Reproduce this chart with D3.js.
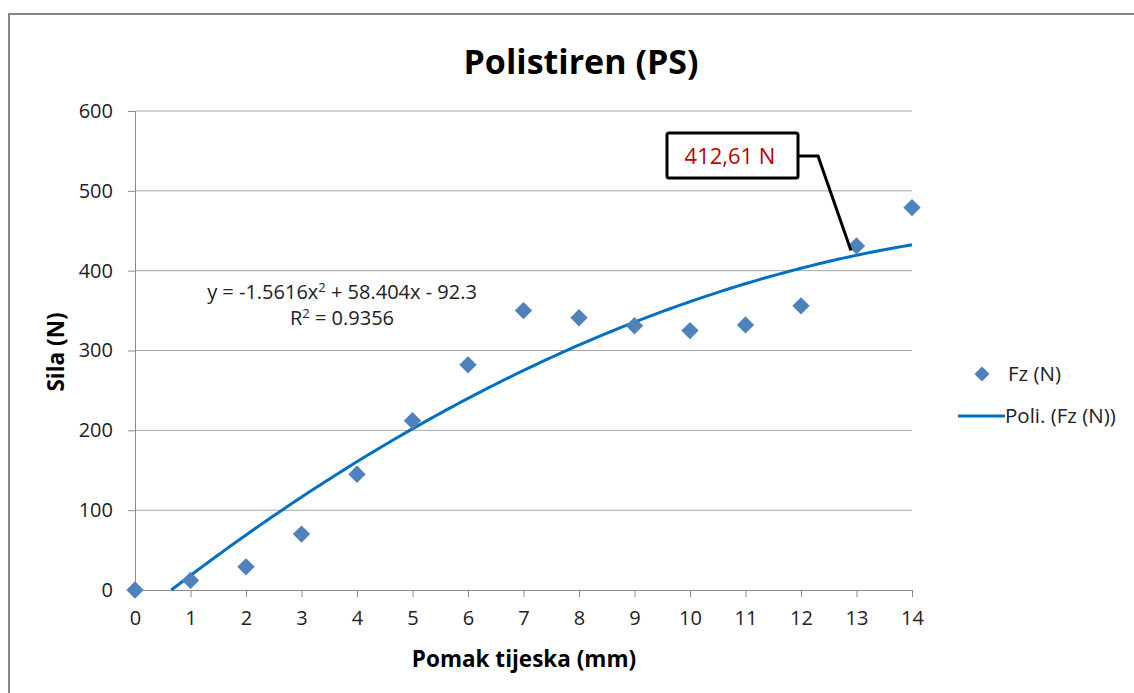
<!DOCTYPE html>
<html>
<head>
<meta charset="utf-8">
<script src="https://cdn.jsdelivr.net/npm/d3@7"></script>
<style>
  body { margin: 0; background: #fff; }
  text { font-family: "Open Sans", "Noto Sans", sans-serif; }
</style>
</head>
<body>
<svg width="1134" height="693"></svg>
<script>
// pomak tijeska (mm) i sila Fz (N)
const pomak = [0, 1, 2, 3, 4, 5, 6, 7, 8, 9, 10, 11, 12, 13, 14];
const sila = [0, 12, 29, 70, 145, 212, 282, 350, 341, 331, 325, 332, 356, 431, 479];
// polinom 2. reda (Excel trend, x = redni broj tocke)
const koef = [-1.5616, 58.404, -92.3];
const xTicks = [0, 1, 2, 3, 4, 5, 6, 7, 8, 9, 10, 11, 12, 13, 14];
const yTicks = [0, 100, 200, 300, 400, 500, 600];

const svg = d3.select('svg');

svg.append('rect')
  .attr('x', 9).attr('y', 14)
  .attr('width', 1140).attr('height', 700)
  .attr('fill', '#fff').attr('stroke', '#868686').attr('stroke-width', 2);

const x = d3.scaleLinear().domain([0, 14]).range([135, 912]);
const y = d3.scaleLinear().domain([0, 600]).range([590, 111]);

// gridlines
svg.append('g').selectAll('line')
  .data(yTicks.filter(d => d > 0))
  .enter().append('line')
  .attr('x1', x(0)).attr('x2', x(14))
  .attr('y1', d => y(d)).attr('y2', d => y(d))
  .attr('stroke', '#a6a6a6').attr('stroke-width', 1);

const yAxis = svg.append('g')
  .attr('transform', `translate(${x(0)},0)`)
  .call(d3.axisLeft(y).tickValues(yTicks).tickSize(7).tickPadding(15));
const xAxis = svg.append('g')
  .attr('transform', `translate(0,${y(0)})`)
  .call(d3.axisBottom(x).tickValues(xTicks).tickSize(7).tickPadding(14));

[yAxis, xAxis].forEach(a => {
  a.attr('font-size', 20).attr('font-family', null);
  a.select('.domain').attr('stroke', '#8c8c8c');
  a.selectAll('.tick line').attr('stroke', '#8c8c8c');
  a.selectAll('.tick text').attr('fill', '#222');
});

// trend
const trend = t => koef[0] * (t + 1) * (t + 1) + koef[1] * (t + 1) + koef[2];
const x0 = (-koef[1] + Math.sqrt(koef[1] * koef[1] - 4 * koef[0] * koef[2])) / (2 * koef[0]) - 1;
const tPts = d3.range(0, 141).map(i => x0 + (14 - x0) * i / 140);

svg.append('path')
  .datum(tPts)
  .attr('fill', 'none')
  .attr('stroke', '#0070c0')
  .attr('stroke-width', 3)
  .attr('d', d3.line().x(t => x(t)).y(t => y(trend(t))));

// tocke
const diamond = d3.symbol().type(d3.symbolSquare).size(150);
svg.append('g').selectAll('path')
  .data(pomak)
  .enter().append('path')
  .attr('d', diamond)
  .attr('transform', (d, i) => `translate(${x(d)},${y(sila[i])}) rotate(45)`)
  .attr('fill', '#4f81bd');

// naslov
svg.append('text')
  .attr('x', 581).attr('y', 74)
  .attr('text-anchor', 'middle')
  .attr('font-size', 34).attr('font-weight', 'bold')
  .text('Polistiren (PS)');

svg.append('text')
  .attr('x', 524).attr('y', 667)
  .attr('text-anchor', 'middle')
  .attr('font-size', 22.5).attr('font-weight', 'bold')
  .text('Pomak tijeska (mm)');

svg.append('text')
  .attr('transform', 'translate(64,352) rotate(-90)')
  .attr('text-anchor', 'middle')
  .attr('font-size', 22.5).attr('font-weight', 'bold')
  .text('Sila (N)');

// jednadzba
const eq = svg.append('text')
  .attr('x', 342).attr('y', 299)
  .attr('text-anchor', 'middle')
  .attr('font-size', 20).attr('fill', '#222');
eq.append('tspan').text('y = -1.5616x');
eq.append('tspan').attr('font-size', 13).attr('dy', -7).text('2');
eq.append('tspan').attr('dy', 7).text(' + 58.404x - 92.3');

const r2 = svg.append('text')
  .attr('x', 342).attr('y', 325)
  .attr('text-anchor', 'middle')
  .attr('font-size', 20).attr('fill', '#222');
r2.append('tspan').text('R');
r2.append('tspan').attr('font-size', 13).attr('dy', -7).text('2');
r2.append('tspan').attr('dy', 7).text(' = 0.9356');

// oznaka 412,61 N
const tLab = 12.9;
svg.append('path')
  .attr('d', `M798,156 L818,156 L${x(tLab)},${y(trend(tLab)) - 6}`)
  .attr('fill', 'none').attr('stroke', '#000').attr('stroke-width', 3);
svg.append('rect')
  .attr('x', 667).attr('y', 133).attr('width', 131).attr('height', 45)
  .attr('rx', 2)
  .attr('fill', '#fff').attr('stroke', '#000').attr('stroke-width', 3);
svg.append('text')
  .attr('x', 730).attr('y', 164)
  .attr('text-anchor', 'middle')
  .attr('font-size', 22).attr('fill', '#c00000')
  .text('412,61 N');

// legenda
svg.append('path')
  .attr('d', d3.symbol().type(d3.symbolSquare).size(112))
  .attr('transform', 'translate(982,374) rotate(45)')
  .attr('fill', '#4f81bd');
svg.append('text')
  .attr('x', 1008).attr('y', 381)
  .attr('font-size', 20.5).attr('fill', '#222')
  .text('Fz (N)');
svg.append('line')
  .attr('x1', 958).attr('x2', 1005).attr('y1', 416).attr('y2', 416)
  .attr('stroke', '#0070c0').attr('stroke-width', 3);
svg.append('text')
  .attr('x', 1005).attr('y', 423)
  .attr('font-size', 20.5).attr('fill', '#222')
  .text('Poli. (Fz (N))');
</script>
</body>
</html>
